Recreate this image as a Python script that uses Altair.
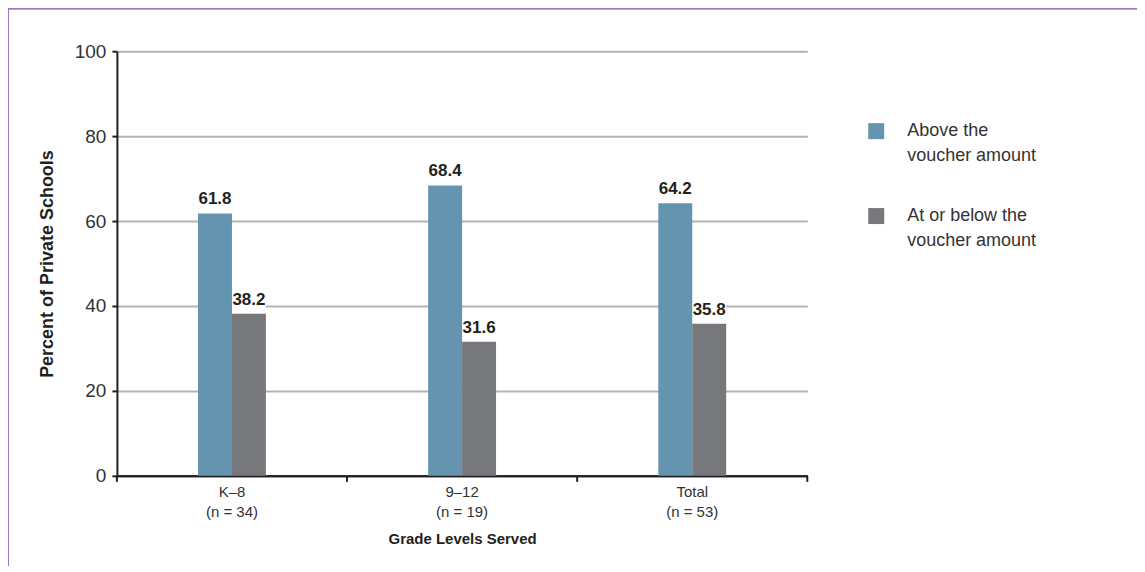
import altair as alt
import pandas as pd

grades = ["K–8", "9–12", "Total"]
n_schools = [34, 19, 53]
series = ["Above the voucher amount", "At or below the voucher amount"]
above = [61.8, 68.4, 64.2]
below = [38.2, 31.6, 35.8]
colors = ["#6594b1", "#77787b"]
y_ticks = [0, 20, 40, 60, 80, 100]
band_edges = [0, 1, 2, 3]

cat_order = [f"{g}|(n = {n})" for g, n in zip(grades, n_schools)]
rows = []
for cat, a, b in zip(cat_order, above, below):
    rows.append({"grade": cat, "series": series[0], "value": a})
    rows.append({"grade": cat, "series": series[1], "value": b})
df = pd.DataFrame(rows)
edges_df = pd.DataFrame({"edge": band_edges})

SANS = "Liberation Sans, Arial, sans-serif"
INK = "#231f20"
FRAME = "#a274b9"
W, H = 691, 425
PL, PT, PR, PB = 109, 43, 330, 90
P_IN = 0.705

x_enc = alt.X(
    "grade:N",
    sort=cat_order,
    scale=alt.Scale(paddingInner=P_IN, paddingOuter=P_IN / 2),
    axis=alt.Axis(
        title="Grade Levels Served",
        labelExpr="split(datum.label, '|')",
        labelAngle=0,
        labelAlign="center",
        labelBaseline="top",
        labelFont=SANS,
        labelFontSize=15,
        labelLineHeight=20,
        labelColor="#333333",
        labelPadding=9,
        ticks=False,
        domainColor=INK,
        domainWidth=2,
        titleFont=SANS,
        titleFontSize=15,
        titleFontWeight="bold",
        titleColor=INK,
        titleY=63,
        titleBaseline="middle",
    ),
)
xo_enc = alt.XOffset("series:N", sort=series)
y_enc = alt.Y(
    "value:Q",
    scale=alt.Scale(domain=[0, 100]),
    axis=alt.Axis(
        values=y_ticks,
        title="Percent of Private Schools",
        grid=True,
        gridColor=alt.condition("datum.value == 0", alt.value(INK), alt.value("#b3b3b3")),
        gridWidth=2,
        domainColor=INK,
        domainWidth=2,
        tickColor=INK,
        tickWidth=2,
        tickSize=5,
        labelFont=SANS,
        labelFontSize=19,
        labelColor="#333333",
        labelPadding=6,
        titleFont=SANS,
        titleFontSize=18,
        titleFontWeight="bold",
        titleColor=INK,
        titleX=-69,
        titleY=H / 2,
        titleBaseline="middle",
    ),
)

bars = alt.Chart(df).mark_bar().encode(
    x=x_enc,
    xOffset=xo_enc,
    y=y_enc,
    color=alt.Color(
        "series:N",
        sort=series,
        scale=alt.Scale(domain=series, range=colors),
        legend=alt.Legend(
            title=None,
            orient="none",
            legendX=751,
            legendY=71,
            symbolType="square",
            symbolSize=256,
            symbolStrokeWidth=0,
            labelFont=SANS,
            labelFontSize=18,
            labelColor="#333333",
            labelOffset=22,
            labelLimit=300,
            rowPadding=42,
            padding=0,
            labelExpr="datum.label == 'Above the voucher amount' ? ['Above the', 'voucher amount'] : ['At or below the', 'voucher amount']",
        ),
    ),
)

boxes = alt.Chart(df).transform_calculate(top="datum.value + 6").mark_bar(
    color="white"
).encode(
    x=alt.X("grade:N", sort=cat_order),
    xOffset=alt.XOffset("series:N", sort=series),
    y="value:Q",
    y2="top:Q",
)

labels = alt.Chart(df).mark_text(
    baseline="bottom", dy=-5, font=SANS, fontSize=17, fontWeight="bold", color=INK
).encode(
    x=alt.X("grade:N", sort=cat_order),
    xOffset=alt.XOffset("series:N", sort=series),
    y="value:Q",
    text=alt.Text("value:Q", format=".1f"),
)

main = alt.layer(boxes, bars, labels)

edge_ticks = alt.Chart(edges_df).mark_rule(color=INK, strokeWidth=2).encode(
    x=alt.X("edge:Q", scale=alt.Scale(domain=[0, 3], nice=False, zero=False), axis=None),
    y=alt.value(H),
    y2=alt.value(H + 6),
)

frame_left = alt.Chart(edges_df).mark_rule(color=FRAME, strokeWidth=2).encode(
    x=alt.value(-PL), y=alt.value(-PT), y2=alt.value(H + PB)
)
frame_top = alt.Chart(edges_df).mark_rule(color=FRAME, strokeWidth=2).encode(
    x=alt.value(-PL), x2=alt.value(W + PR), y=alt.value(-PT)
)

chart = (
    alt.layer(main, edge_ticks, frame_left, frame_top)
    .resolve_scale(x="independent")
    .properties(
        width=W,
        height=H,
        padding={"left": PL, "top": PT, "right": PR, "bottom": PB},
        autosize=alt.AutoSizeParams(type="none"),
        background="white",
    )
    .configure(
        view=alt.ViewConfig(stroke="transparent"),
        style={"guide-label": {"lineHeight": 25}},
    )
)

chart.save("out.html", embed_options={"renderer": "svg", "actions": False})
